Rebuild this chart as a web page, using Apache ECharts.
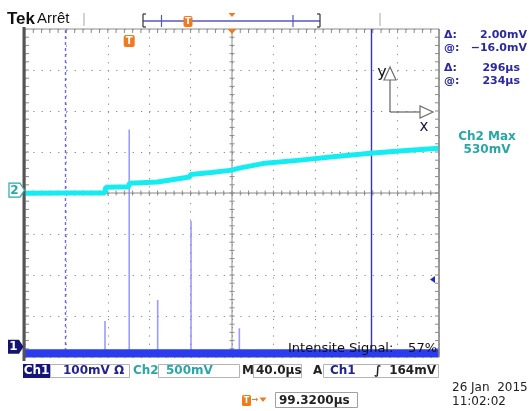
<!DOCTYPE html>
<html>
<head>
<meta charset="utf-8">
<script src="https://cdn.jsdelivr.net/npm/echarts@6/dist/echarts.min.js"></script>
<style>
  html, body { margin: 0; padding: 0; background: #fff; }
  #scope { width: 530px; height: 411px; }
</style>
</head>
<body>
<div id="scope"></div>
<script>
// ---- Acquisition settings --------------------------------------------
const timePerDiv = 40;          // µs / div, time measured from screen centre
const ch1MvPerDiv = 100;
const ch2MvPerDiv = 500;
const ch1OffsetDiv = -3.75;     // ground marker positions (divisions)
const ch2OffsetDiv = 0.07;
const triggerDelayUs = 99.32;   // trigger point sits this far left of centre
const triggerLevelMv = 164;
const cursorTimesUs = [-161, 135];
const cursorVoltsMv = [-16.0, 2.00];   // @ level, Δ
const ch2MaxMv = 530;
const intensityPct = 57;

// ---- Channel 2: slow ramp [µs] / [mV] ----------------------------------
const ch2Time = [-200, -160, -123, -122, -100, -99, -72, -41, -40, -20, 0, 7, 8, 32, 66, 100, 134, 165, 200];
const ch2Mv   = [-37,  -35,  -36,   34,   40,   85,  98, 159, 192, 215, 244, 268, 282, 329, 366, 410, 451, 480, 512];

// ---- Channel 1: baseline and narrow pulses ------------------------------
const ch1BaseMv = -16;
const ch1PulseTime = [-122.7, -99.3, -71.8, -39.6, 7.1];
const ch1PulseMv   = [63, 530, 114, 307, 45];

// ---- Date / time stamp ---------------------------------------------------
const stampDate = '26 Jan  2015';
const stampTime = '11:02:02';

const ch1Div = mv => mv / ch1MvPerDiv + ch1OffsetDiv;
const ch2Div = mv => mv / ch2MvPerDiv + ch2OffsetDiv;

const ch2Data = ch2Time.map((t, i) => [t, ch2Div(ch2Mv[i])]);
const pulseData = [[-200, ch1Div(ch1BaseMv)]];
ch1PulseTime.forEach((t, i) => {
  pulseData.push([t, ch1Div(ch1BaseMv)], [t, ch1Div(ch1PulseMv[i])], [t, ch1Div(ch1BaseMv)]);
});
pulseData.push([200, ch1Div(ch1BaseMv)]);
const bandData = [[-200, ch1Div(ch1BaseMv)], [200, ch1Div(ch1BaseMv)]];

const GRID = { left: 25, top: 29, width: 414, height: 328 };
const FONT = '"DejaVu Sans", sans-serif';

const chart = echarts.init(document.getElementById('scope'), null, { renderer: 'canvas' });

const dotted = { color: '#8f8f8f', width: 1, type: [1.3, 6.98] };

chart.setOption({
  animation: false,
  backgroundColor: '#ffffff',
  grid: Object.assign({ show: true, borderColor: '#8c8c8c', borderWidth: 1 }, GRID),
  xAxis: {
    type: 'value', min: -5 * timePerDiv, max: 5 * timePerDiv, interval: timePerDiv,
    axisLine: { show: false }, axisTick: { show: false }, axisLabel: { show: false },
    splitLine: { show: true, lineStyle: dotted }
  },
  yAxis: {
    type: 'value', min: -4, max: 4, interval: 1,
    axisLine: { show: false }, axisTick: { show: false }, axisLabel: { show: false },
    splitLine: { show: true, lineStyle: dotted }
  },
  series: [
    {
      name: 'Ch1 pulses', type: 'line', data: pulseData, z: 3,
      showSymbol: false, symbol: 'none',
      lineStyle: { color: 'rgba(120,120,255,0.75)', width: 1.6 },
      markLine: {
        silent: true, symbol: 'none', label: { show: false }, z: 2,
        data: [
          { xAxis: cursorTimesUs[0], lineStyle: { color: '#6a6ae6', width: 1.4, type: [3, 3] } },
          { xAxis: cursorTimesUs[1], lineStyle: { color: '#3434c4', width: 1.4, type: 'solid' } }
        ]
      }
    },
    {
      name: 'Ch1', type: 'line', data: bandData, z: 4,
      showSymbol: false, symbol: 'none',
      lineStyle: { color: '#2b3bf0', width: 8 }
    },
    {
      name: 'Ch2', type: 'line', data: ch2Data, z: 5,
      showSymbol: false, symbol: 'none',
      lineStyle: { color: '#14ecf2', width: 5 }
    }
  ]
});

// ---- Graticule ticks, markers and readouts ------------------------------
const g = [];
const L = GRID.left, T = GRID.top, R = GRID.left + GRID.width, B = GRID.top + GRID.height;
const cx = L + GRID.width / 2, cy = T + GRID.height / 2;
const stepX = GRID.width / 50, stepY = GRID.height / 40;
const tickCol = '#8a8a8a';

function seg(x1, y1, x2, y2, stroke, lw, z) {
  g.push({ type: 'line', silent: true, z: z || 1, shape: { x1, y1, x2, y2 }, style: { stroke, lineWidth: lw || 1 } });
}
function txt(x, y, s, font, fill, align, z) {
  align = align || 'left';
  g.push({ type: 'text', silent: true, z: z || 100, x, y,
    style: { text: s, font, fill, textAlign: align, align, textVerticalAlign: 'middle', verticalAlign: 'middle' } });
}
function box(x, y, w, h, fill, stroke, z, r) {
  g.push({ type: 'rect', silent: true, z: z || 90, shape: { x, y, width: w, height: h, r: r || 0 },
    style: { fill, stroke: stroke || null, lineWidth: 1 } });
}
function poly(points, fill, stroke, z) {
  g.push({ type: 'polygon', silent: true, z: z || 95, shape: { points },
    style: { fill, stroke: stroke || null, lineWidth: 1.2 } });
}

// centre crosshair
seg(L, cy, R, cy, tickCol, 1);
seg(cx, T, cx, B, tickCol, 1);
for (let i = 1; i < 50; i++) {
  const x = L + i * stepX;
  seg(x, cy - 2.5, x, cy + 2.5, tickCol, 1);
  seg(x, T, x, T + 4, tickCol, 1);
  seg(x, B - 4, x, B, tickCol, 1);
}
for (let j = 1; j < 40; j++) {
  const y = T + j * stepY;
  seg(cx - 2.5, y, cx + 2.5, y, tickCol, 1);
  seg(R - 4, y, R, y, tickCol, 1);
  seg(L, y, L + 4, y, tickCol, 1);
}
// heavy left edge
seg(L - 1, T - 2, L - 1, B + 4, '#555555', 3, 20);
seg(R, T, R, B, '#8c8c8c', 1.5, 20);

// header
txt(7, 19, 'Tek', 'bold 17px "Liberation Sans", sans-serif', '#111');
txt(37, 19, 'Arrêt', '15px "Liberation Sans", sans-serif', '#111');
seg(84, 13, 84, 26, '#c4c4c4', 1.5, 30);
seg(380, 13, 380, 26, '#c4c4c4', 1.5, 30);
// record view bar
const barCol = '#5656cc';
seg(143, 21, 320, 21, barCol, 1.5, 30);
seg(143, 14, 143, 27, '#333', 1.2, 30); seg(143, 14, 146, 14, '#333', 1.2, 30); seg(143, 27, 146, 27, '#333', 1.2, 30);
seg(320, 14, 320, 27, '#333', 1.2, 30); seg(317, 14, 320, 14, '#333', 1.2, 30); seg(317, 27, 320, 27, '#333', 1.2, 30);
seg(161.5, 15, 161.5, 27, barCol, 1.2, 30);
seg(293, 15, 293, 27, barCol, 1.2, 30);
box(183.5, 16, 9, 11, '#f07a1e', null, 40, 2);
txt(188, 21.5, 'T', 'bold 9px ' + FONT, '#fff', 'center', 41);
poly([[228.5, 13], [235.5, 13], [232, 17]], '#f07a1e', null, 40);

// trigger markers inside the graticule
const trigPx = chart.convertToPixel({ gridIndex: 0 }, [-triggerDelayUs, 0]);
box(trigPx[0] - 5.5, 35, 11, 12, '#f07a1e', null, 96, 2);
txt(trigPx[0], 41.5, 'T', 'bold 10px ' + FONT, '#fff', 'center', 97);
poly([[cx - 4.5, T], [cx + 4.5, T], [cx, T + 5]], '#f07a1e', null, 96);

// channel ground markers
const ch2Px = chart.convertToPixel({ gridIndex: 0 }, [0, ch2OffsetDiv])[1];
const ch1Px = chart.convertToPixel({ gridIndex: 0 }, [0, ch1OffsetDiv])[1];
poly([[9, ch2Px - 7], [20, ch2Px - 7], [24.5, ch2Px], [20, ch2Px + 7], [9, ch2Px + 7]], '#ffffff', '#2aa8a8', 96);
txt(14.5, ch2Px + 0.5, '2', 'bold 12px ' + FONT, '#2aa8a8', 'center', 97);
poly([[8, ch1Px - 7], [19, ch1Px - 7], [23.5, ch1Px], [19, ch1Px + 7], [8, ch1Px + 7]], '#141470', null, 96);
txt(13.5, ch1Px + 0.5, '1', 'bold 12px ' + FONT, '#fff', 'center', 97);

// trigger level arrow on the right edge
const lvlPx = chart.convertToPixel({ gridIndex: 0 }, [0, ch1Div(triggerLevelMv)])[1];
poly([[R - 9, lvlPx], [R - 4, lvlPx - 3.5], [R - 4, lvlPx + 3.5]], '#2a2ab8', null, 96);

// XY orientation glyph
const ic = '#6e6e6e';
seg(390, 112, 390, 80, ic, 1.3, 60);
poly([[384, 80], [396, 80], [390, 67]], '#ffffff', ic, 61);
seg(390, 112, 420, 112, ic, 1.3, 60);
poly([[420, 106], [420, 118], [433, 112]], '#ffffff', ic, 61);
txt(382, 73, 'y', '16px ' + FONT, '#111', 'center');
txt(424, 127, 'x', '15px ' + FONT, '#1a1a40', 'center');

// cursor readouts
const rdFont = 'bold 11px ' + FONT, rdCol = '#2a2a9e';
const dtUs = cursorTimesUs[1] - cursorTimesUs[0];
const atUs = cursorTimesUs[1] + triggerDelayUs;
txt(444, 35, 'Δ:', rdFont, rdCol); txt(527, 35, cursorVoltsMv[1].toFixed(2) + 'mV', rdFont, rdCol, 'right');
txt(444, 48, '@:', rdFont, rdCol); txt(527, 48, '\u2212' + Math.abs(cursorVoltsMv[0]).toFixed(1) + 'mV', rdFont, rdCol, 'right');
txt(444, 68, 'Δ:', rdFont, rdCol); txt(520, 68, Math.round(dtUs) + 'µs', rdFont, rdCol, 'right');
txt(444, 81, '@:', rdFont, rdCol); txt(520, 81, Math.round(atUs) + 'µs', rdFont, rdCol, 'right');

// measurement
const teal = '#2aa6a6';
txt(487, 137, 'Ch2 Max', 'bold 12px ' + FONT, teal, 'center');
txt(487, 150, ch2MaxMv + 'mV', 'bold 12px ' + FONT, teal, 'center');

// intensity note
txt(288, 349, 'Intensite Signal:', '13px ' + FONT, '#111');
txt(437, 349, intensityPct + '%', '13px ' + FONT, '#111', 'right');

// status bar
const sb = 371, sbFont = 'bold 12px ' + FONT, navy = '#232390';
box(23, 364, 27, 14, '#16167a', null, 90);
txt(36.5, sb, 'Ch1', sbFont, '#fff', 'center');
box(50.5, 364.5, 79, 13, '#fff', '#b4b4b4', 90);
txt(63, sb, ch1MvPerDiv + 'mV Ω', sbFont, navy);
txt(133, sb, 'Ch2', sbFont, teal);
box(158.5, 364.5, 81, 13, '#fff', '#b4b4b4', 90);
txt(166, sb, ch2MvPerDiv + 'mV', sbFont, teal);
txt(242, sb, 'M', sbFont, '#222');
box(253.5, 364.5, 48, 13, '#fff', '#b4b4b4', 90);
txt(256, sb, timePerDiv.toFixed(1) + 'µs', sbFont, '#222');
txt(313, sb, 'A', sbFont, '#222');
box(323.5, 364.5, 115, 13, '#fff', '#b4b4b4', 90);
txt(330, sb, 'Ch1', sbFont, navy);
txt(378, sb, '∫', 'bold italic 12px ' + FONT, '#222', 'center');
txt(436, sb, triggerLevelMv + 'mV', sbFont, '#222', 'right');

// trigger delay readout
box(242, 395, 9, 11, '#f07a1e', null, 90, 1.5);
txt(246.5, 400.5, 'T', 'bold 8px ' + FONT, '#fff', 'center', 91);
txt(255, 400, '→', 'bold 8px ' + FONT, '#f07a1e', 'center');
poly([[259.5, 397.5], [266.5, 397.5], [263, 402]], '#f07a1e', null, 92);
box(275.5, 392.5, 82, 15, '#fff', '#a0a0a0', 90);
txt(279, 400.5, triggerDelayUs.toFixed(4) + 'µs', sbFont, '#222');

// date stamp
txt(452, 388, stampDate, '12px ' + FONT, '#222');
txt(452, 402, stampTime, '12px ' + FONT, '#222');

chart.setOption({ graphic: { elements: g } });
</script>
</body>
</html>
